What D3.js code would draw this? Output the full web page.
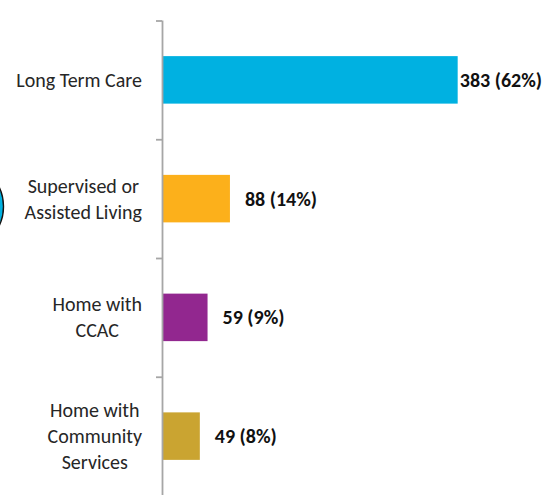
<!DOCTYPE html>
<html>
<head>
<meta charset="utf-8">
<script src="https://cdn.jsdelivr.net/npm/d3@7"></script>
<style>
  body { margin: 0; background: #fff; }
  svg { display: block; font-family: Carlito, Calibri, Lato, sans-serif; }
</style>
</head>
<body>
<div id="container"></div>
<script>

// Data.
const categories = [
  ["Long Term Care"],
  ["Supervised or", "Assisted Living"],
  ["Home with", "CCAC"],
  ["Home with", "Community", "Services"]
];
const counts = [383, 88, 59, 49];
const percents = [62, 14, 9, 8];
const colors = ["#00b1e1", "#fcb01b", "#92278f", "#caa431"];

const width = 546;
const height = 495;

const axisX = 162;
const marginTop = 20.5;
const bottom = 497;

const keys = categories.map(c => c.join(" "));

// Horizontal value scale.
const x = d3.scaleLinear()
    .domain([0, 500])
    .range([axisX, axisX + 386]);

// Category bands.
const y = d3.scaleBand()
    .domain(keys)
    .range([marginTop, marginTop + 475])
    .paddingInner(0.6)
    .paddingOuter(0.3);

// Boundaries between categories, for the tick marks.
const yEdge = d3.scaleLinear()
    .domain([0, keys.length])
    .range([marginTop, marginTop + 475]);

const svg = d3.create("svg")
    .attr("width", width)
    .attr("height", height);

container.append(svg.node());

// Blue shape cut off at the left edge.
svg.append("circle")
    .attr("cx", -40.5)
    .attr("cy", 206.5)
    .attr("r", 44)
    .attr("fill", "#00b1e1")
    .attr("stroke", "#111")
    .attr("stroke-width", 1.4);

// Bars.
svg.append("g")
  .selectAll("rect")
  .data(keys)
  .join("rect")
    .attr("x", x(0))
    .attr("y", d => y(d))
    .attr("width", (d, i) => x(counts[i]) - x(0))
    .attr("height", y.bandwidth())
    .attr("fill", (d, i) => colors[i]);

// Axis with ticks at the category boundaries.
const axis = svg.append("g")
    .attr("transform", `translate(${axisX},0)`)
    .call(d3.axisLeft(yEdge)
      .tickValues(d3.range(keys.length + 1))
      .tickFormat("")
      .tickSize(6)
      .tickSizeOuter(0));
axis.select(".domain").attr("stroke", "#a6a6a6").attr("stroke-width", 1.8)
    .attr("d", `M0.5,${marginTop}V${bottom}`);
axis.selectAll(".tick line").attr("stroke", "#a6a6a6").attr("stroke-width", 1.8);
axis.selectAll(".tick").filter(d => d === keys.length).remove();

// Category labels: block right-aligned, lines centred within it.
const lineH = 26;
const labelRight = 142;
svg.append("g")
  .selectAll("text")
  .data(categories)
  .join("text")
    .attr("font-size", 20)
    .attr("fill", "#262626")
    .attr("text-anchor", "middle")
    .each(function(lines, i) {
      const t = d3.select(this);
      const cy = y(keys[i]) + y.bandwidth() / 2;
      const y0 = cy - (lines.length - 1) * lineH / 2;
      lines.forEach((s, j) => {
        t.append("tspan")
          .attr("y", y0 + j * lineH)
          .attr("dy", "0.35em")
          .text(s);
      });
      let w = 0;
      t.selectAll("tspan").each(function() { w = Math.max(w, this.getComputedTextLength()); });
      t.selectAll("tspan").attr("x", labelRight - w / 2);
    });

// Value labels.
svg.append("g")
  .selectAll("text")
  .data(keys)
  .join("text")
    .attr("font-size", 20)
    .attr("font-weight", "bold")
    .attr("fill", "#111")
    .attr("y", d => y(d) + y.bandwidth() / 2)
    .attr("dy", "0.35em")
    .text((d, i) => `${counts[i]} (${percents[i]}%)`)
    .attr("x", function(d, i) {
      const w = this.getComputedTextLength();
      return Math.min(x(counts[i]) + 15, 542 - w);
    });

</script>
</body>
</html>
